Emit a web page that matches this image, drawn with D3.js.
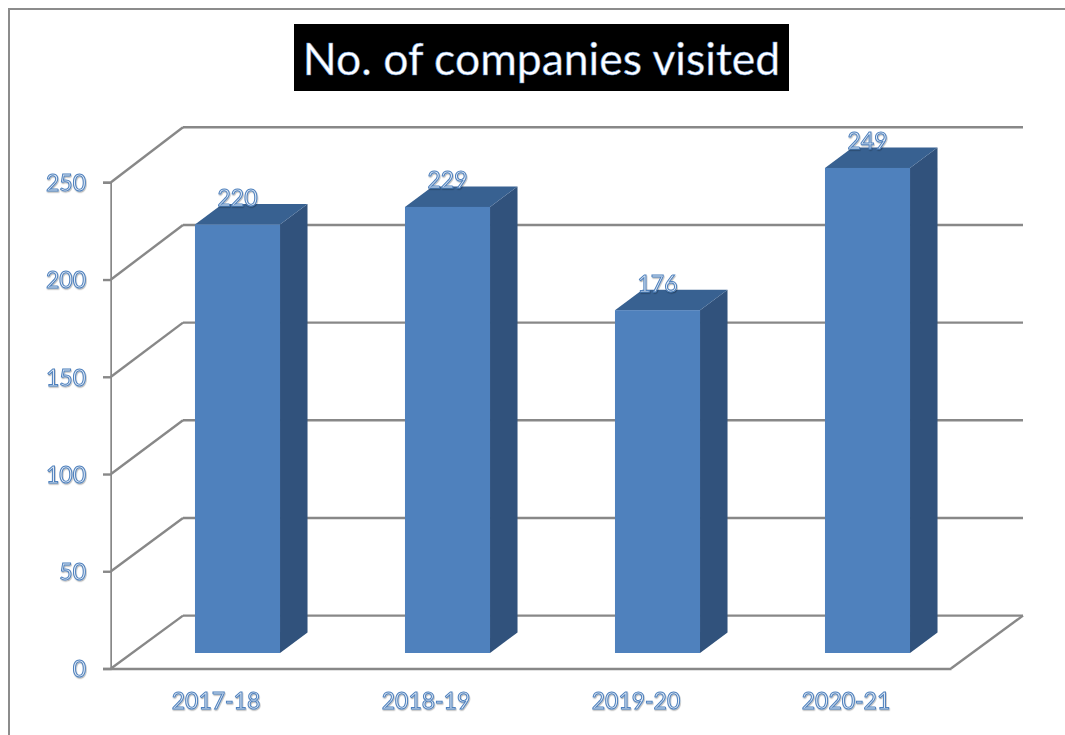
<!DOCTYPE html>
<html>
<head>
<meta charset="utf-8">
<script src="https://cdn.jsdelivr.net/npm/d3@7"></script>
<style>
html, body { margin: 0; padding: 0; background: #fff; overflow: hidden; }
svg { display: block; }
text { font-family: Lato, "Open Sans", sans-serif; }
.label { fill: #e3ecf7; stroke: #4f81bd; stroke-width: 1; filter: url(#soft); font-size: 23px; }
.grid { stroke: #888888; stroke-width: 2.4; fill: none; }
</style>
</head>
<body>
<div id="chart"></div>
<script>
const years = ['2017-18', '2018-19', '2019-20', '2020-21'];
const companies = [220, 229, 176, 249];
const yTicks = [0, 50, 100, 150, 200, 250];
const chartTitle = 'No. of companies visited';

const width = 1065, height = 735;
// oblique offset from the front of the floor to the back wall
const depthX = 72;

function draw_chart() {
    let svg = d3.select('#chart').append('svg')
        .attr('width', width)
        .attr('height', height);

    let defs = svg.append('defs');
    let filter = defs.append('filter')
        .attr('id', 'soft')
        .attr('x', '-10%').attr('y', '-10%')
        .attr('width', '120%').attr('height', '130%');
    filter.append('feDropShadow')
        .attr('dx', 0.6).attr('dy', 1.2)
        .attr('stdDeviation', 0.7)
        .attr('flood-color', '#000')
        .attr('flood-opacity', 0.3);
    defs.append('filter')
        .attr('id', 'blur')
        .attr('x', '-2%').attr('y', '-2%')
        .attr('width', '104%').attr('height', '104%')
        .append('feGaussianBlur').attr('stdDeviation', 0.45);

    let x = d3.scaleBand().domain(years).range([111, 951]).paddingInner(0.595).paddingOuter(0.2975);
    let y = d3.scaleLinear().domain([0, 250]).range([668.5, 182.3]);
    // back wall and bar fronts sit on their own planes
    let yBack = d3.scaleLinear().domain([0, 250]).range([615.6, 127.3]);
    let yBar = d3.scaleLinear().domain([0, 250]).range([653, 166]);

    draw_frame(svg);
    draw_title(svg);
    draw_walls(svg, x, y, yBack);
    draw_bars(svg, x, yBar);
    draw_axes(svg, x, y);
}

function draw_frame(svg) {
    svg.append('path')
        .attr('d', d3.line()([[9, height], [9, 9], [width, 9]]))
        .attr('fill', 'none')
        .attr('stroke', '#8c8c8c')
        .attr('stroke-width', 2)
        .attr('filter', 'url(#blur)');
}

function draw_title(svg) {
    svg.append('rect')
        .attr('x', 294).attr('y', 24)
        .attr('width', 495).attr('height', 67)
        .attr('fill', '#000');
    svg.append('text')
        .attr('x', 541.5).attr('y', 75)
        .attr('text-anchor', 'middle')
        .attr('font-size', 44.5)
        .attr('fill', '#fff')
        .attr('stroke', '#5b8fd0')
        .attr('stroke-width', 0.5)
        .text(chartTitle);
}

function draw_walls(svg, x, y, yBack) {
    let grid = svg.append('g').attr('filter', 'url(#blur)');
    let left = x.range()[0], right = x.range()[1];

    grid.selectAll('.back')
        .data(yTicks)
        .enter().append('line')
        .attr('class', 'grid back')
        .attr('x1', left + depthX).attr('x2', right + depthX)
        .attr('y1', d => yBack(d)).attr('y2', d => yBack(d));

    grid.selectAll('.side')
        .data(yTicks)
        .enter().append('line')
        .attr('class', 'grid side')
        .attr('x1', left).attr('x2', left + depthX)
        .attr('y1', d => y(d)).attr('y2', d => yBack(d));

    // floor edge on the right
    grid.append('line')
        .attr('class', 'grid')
        .attr('x1', right).attr('x2', right + depthX)
        .attr('y1', y(0)).attr('y2', yBack(0));
}

function draw_bars(svg, x, yBar) {
    let dx = 27.5, dy = 20.5;
    let line = d3.line();

    let bars = svg.selectAll('.bar')
        .data(years.map((d, i) => ({year: d, value: companies[i]})))
        .enter().append('g')
        .attr('class', 'bar')
        .attr('transform', 'translate(21.5,0)');

    // right side
    bars.append('path')
        .attr('d', d => {
            let x1 = x(d.year) + x.bandwidth();
            return line([[x1, yBar(d.value)], [x1 + dx, yBar(d.value) - dy], [x1 + dx, yBar(0) - dy], [x1, yBar(0)]]) + 'Z';
        })
        .attr('fill', '#31527c');

    // top
    bars.append('path')
        .attr('d', d => {
            let x0 = x(d.year), x1 = x0 + x.bandwidth();
            return line([[x0, yBar(d.value)], [x0 + dx, yBar(d.value) - dy], [x1 + dx, yBar(d.value) - dy], [x1, yBar(d.value)]]) + 'Z';
        })
        .attr('fill', '#386191');

    // front
    bars.append('rect')
        .attr('x', d => x(d.year))
        .attr('y', d => yBar(d.value))
        .attr('width', x.bandwidth())
        .attr('height', d => yBar(0) - yBar(d.value))
        .attr('fill', '#4f81bd');

    bars.append('text')
        .attr('class', 'label')
        .attr('x', d => x(d.year) + x.bandwidth() / 2)
        .attr('y', d => yBar(d.value) - 18.5)
        .attr('text-anchor', 'middle')
        .text(d => d.value);
}

function draw_axes(svg, x, y) {
    let yAxis = d3.axisLeft(y).tickValues(yTicks).tickSize(8).tickPadding(17);
    let xAxis = d3.axisBottom(x).tickSize(0).tickPadding(24);

    let gy = svg.append('g').attr('transform', 'translate(111,0)').call(yAxis);
    let gx = svg.append('g').attr('transform', `translate(0,${y(0)})`).call(xAxis);

    gy.select('.domain').attr('stroke', '#888888').attr('stroke-width', 2.4).attr('filter', 'url(#blur)');
    gy.selectAll('.tick line').attr('stroke', '#888888').attr('stroke-width', 2.4);
    gx.select('.domain').attr('stroke', '#888888').attr('stroke-width', 2.4);

    gy.selectAll('.tick text').attr('class', 'label').attr('dy', '0.36em');
    gx.selectAll('.tick text').attr('class', 'label');
    gy.attr('font-family', null).attr('font-size', null);
    gx.attr('font-family', null).attr('font-size', null);
}

draw_chart();
</script>
</body>
</html>
